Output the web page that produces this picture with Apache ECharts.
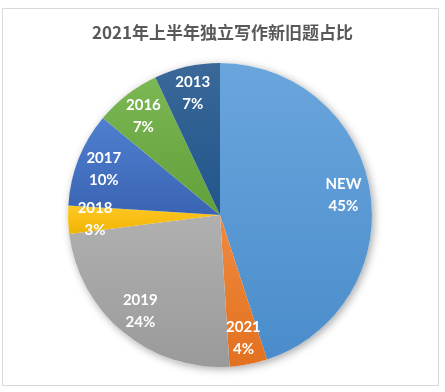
<!DOCTYPE html>
<html><head><meta charset="utf-8">
<script src="https://cdn.jsdelivr.net/npm/echarts@6/dist/echarts.min.js"></script>
<style>html,body{margin:0;padding:0;background:#fff}#c{width:445px;height:392px}</style>
</head><body><div id="c"></div>
<script>
const categories = ['NEW','2021','2019','2018','2017','2016','2013'];
const values = [45, 4, 24, 3, 10, 7, 7];
const colorsTop = ['#6aa6dd','#f08a3f','#b0b0b0','#ffc826','#4f7fcf','#7bb752','#3a6899'];
const colorsBottom = ['#4a8ccb','#e2711f','#9a9a9a','#f0b400','#3a64b3','#62a03c','#21558a'];
const titleText = '2021年上半年独立写作新旧题占比';

const chart = echarts.init(document.getElementById('c'));
const center = [220, 215];
const R = 152;
const grad = (i) => new echarts.graphic.LinearGradient(0,0,0,1,[{offset:0,color:colorsTop[i]},{offset:1,color:colorsBottom[i]}]);
chart.setOption({
  animation:false,
  title:{text:titleText,left:'center',top:19,textStyle:{fontFamily:'Noto Sans CJK SC',fontWeight:'bold',fontSize:17,color:'#595959'}},
  graphic:[{type:'rect',shape:{x:2.5,y:8.5,width:436,height:377},style:{fill:'none',stroke:'#d9d9d9',lineWidth:1},z:-10}],
  series:[
    {type:'pie',radius:[0,R],center:center,silent:true,z:1,label:{show:false},labelLine:{show:false},
     itemStyle:{color:'#ffffff',shadowBlur:8,shadowColor:'rgba(0,0,0,0.35)',shadowOffsetX:2,shadowOffsetY:2},
     data:[{value:1,name:'bg'}]},
    {type:'pie',radius:[0,R],center:center,startAngle:90,clockwise:true,z:2,
     label:{show:false},labelLine:{show:false},
     itemStyle:{borderWidth:0},
     data:categories.map((c,i)=>({name:c,value:values[i],itemStyle:{color:grad(i)}}))},
    {type:'pie',radius:[92,R],center:center,startAngle:90,clockwise:true,z:3,silent:true,
     itemStyle:{color:'rgba(0,0,0,0)',borderWidth:0},
     label:{show:true,position:'inside',formatter:(p)=>p.name+'\n'+values[p.dataIndex]+'%',color:'#fff',fontFamily:'Lato',fontWeight:'bold',fontSize:15,lineHeight:22},
     labelLine:{show:false},
     data:categories.map((c,i)=>({name:c,value:values[i]}))}
  ]
});
</script></body></html>
